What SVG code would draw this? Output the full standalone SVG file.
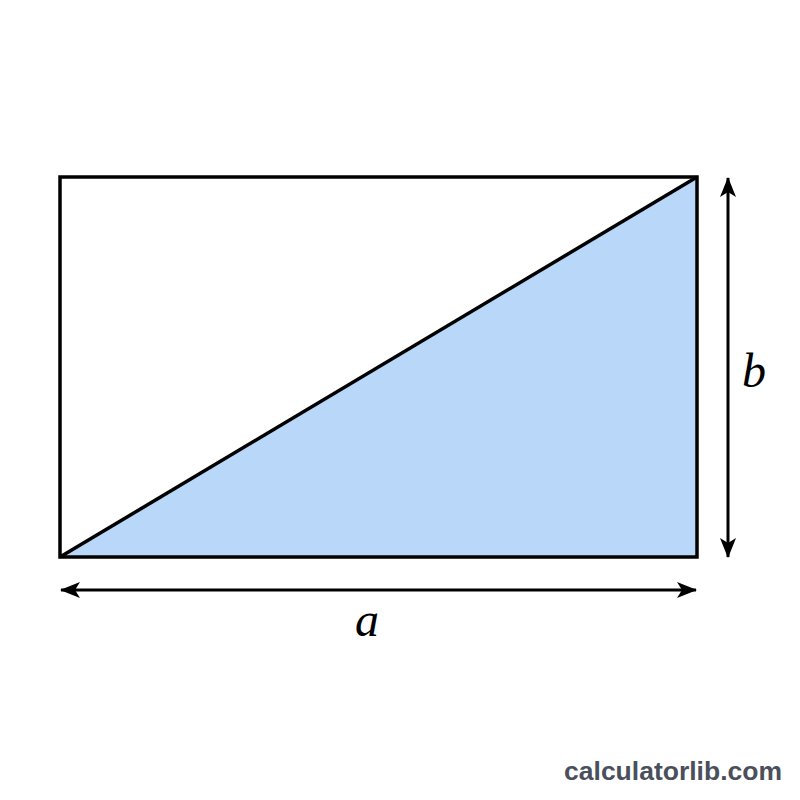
<svg xmlns="http://www.w3.org/2000/svg" width="800" height="800" viewBox="0 0 800 800">
<defs>
<style>
.edge{stroke:#000;stroke-width:3.5;fill:none}
.lbl{font-family:"Liberation Serif",serif;font-style:italic;font-size:48px;fill:#000}
.wm{font-family:"Liberation Sans",Arial,sans-serif;font-weight:bold;font-size:26.5px;fill:#4a4f5c}
</style>
<marker id="ah" viewBox="0 0 20 16" refX="19" refY="8" markerWidth="20" markerHeight="16" markerUnits="userSpaceOnUse" orient="auto-start-reverse">
<path d="M0,0 L20,8 L0,16 L5,8 Z" fill="#000"/>
</marker>
</defs>
<rect width="800" height="800" fill="#fff"/>
<g id="rectangle">
<polygon points="60,557 697,177 697,557" fill="#b9d7f8"/>
<rect x="60" y="177" width="637" height="380" class="edge"/>
<line x1="60" y1="557" x2="697" y2="177" class="edge"/>
</g>
<g id="connectors">
<line x1="61" y1="590" x2="696" y2="590" stroke="#000" stroke-width="3" marker-start="url(#ah)" marker-end="url(#ah)"/>
<line x1="728" y1="178" x2="728" y2="557" stroke="#000" stroke-width="3" marker-start="url(#ah)" marker-end="url(#ah)"/>
</g>
<g id="label-a"><text x="367" y="636" class="lbl" text-anchor="middle">a</text></g>
<g id="label-b"><text x="754" y="387" class="lbl" text-anchor="middle">b</text></g>
<g id="watermark"><text x="782" y="780" class="wm" text-anchor="end">calculatorlib.com</text></g>
</svg>
